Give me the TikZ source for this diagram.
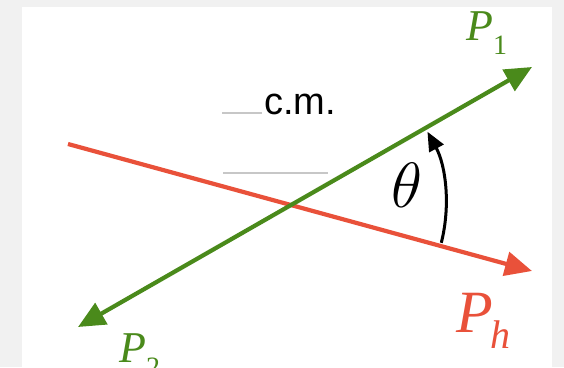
\documentclass[tikz,border=0pt]{standalone}
\usepackage{fix-cm}
\usepackage{fontspec}
\newfontfamily\labelserif{Liberation Serif}
\newfontfamily\labelsans{Liberation Sans}
\usetikzlibrary{arrows.meta}
\definecolor{momred}{RGB}{233,81,58}
\definecolor{momgreen}{RGB}{74,138,27}
\definecolor{framegray}{RGB}{241,241,241}
\begin{document}
\begin{tikzpicture}[x=1pt,y=1pt,every node/.style={inner sep=0pt,anchor=base west},
  momentum/.style={line width=4.2pt},
  momtip/.style={-{Triangle[length=27pt,width=24pt]}},
  guide/.style={line width=1.2pt,color=black!22}]
  \clip (0,0) rectangle (564,367);
  \fill[framegray] (0,0) rectangle (564,367);
  \fill[white] (22,0) rectangle (552,360);
  \coordinate (cross) at (292,162);
  \coordinate (ph0) at (68,223);
  \coordinate (ph1) at (532,96);
  \coordinate (p1) at (532,300);
  \coordinate (p2) at (78,40);
  \draw[guide] (222,254) -- (262,254);
  \draw[guide] (223,194) -- (328,194);
  \draw[momentum,momtip,momred] (ph0) -- (ph1);
  \draw[momentum,momgreen,{Triangle[length=27pt,width=24pt]}-{Triangle[length=27pt,width=24pt]}] (p2) -- (p1);
  \draw[line width=3pt,-{Triangle[length=19pt,width=16pt]}] (cross) ++(-14.2:154pt) arc[start angle=-14.2,end angle=28.4,radius=154pt];
  \node[anchor=base,font=\labelsans\fontsize{38}{38}\selectfont] (cm) at (300,252) {c.m.};
  \node[anchor=center] (theta) at (407,182) {\fontsize{64}{64}\selectfont$\theta$};
  \node[momgreen,font=\labelserif] (lblp1) at (466,326) {\fontsize{44}{44}\selectfont\itshape P\raisebox{-14pt}{\fontsize{28}{28}\selectfont\upshape 1}};
  \node[momgreen,font=\labelserif] (lblp2) at (119,5) {\fontsize{44}{44}\selectfont\itshape P\raisebox{-14pt}{\fontsize{28}{28}\selectfont\upshape 2}};
  \node[momred,font=\labelserif] (lblph) at (456,35) {\fontsize{60}{60}\selectfont\itshape P\kern-2pt\raisebox{-16pt}{\fontsize{40}{40}\selectfont h}};
\end{tikzpicture}
\end{document}
